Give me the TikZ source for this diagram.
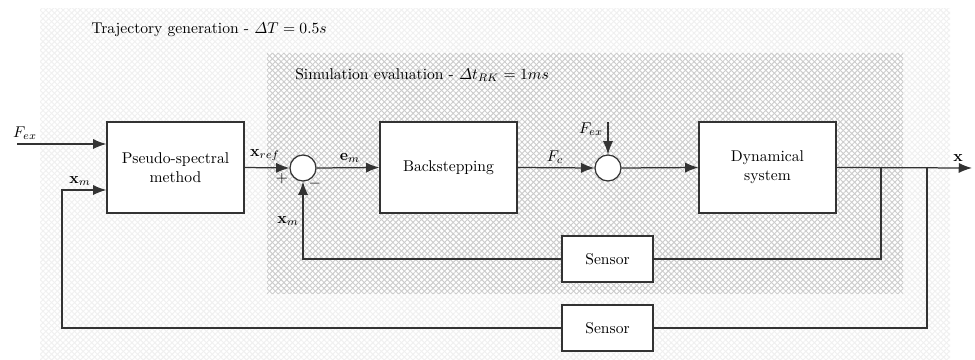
\documentclass[tikz,border=0pt]{standalone}
\usepackage{amsmath}
\usetikzlibrary{arrows.meta,patterns.meta,calc}
\newdimen\pxu \pxu=0.641pt
\definecolor{hatchin}{gray}{0.80}
\definecolor{hatchout}{gray}{0.94}
\definecolor{linec}{gray}{0.2}
\tikzset{
  blockbox/.style={draw=linec,line width=0.8pt,fill=white,minimum width=137\pxu,minimum height=91\pxu,align=center,inner sep=0pt},
  sensorbox/.style={draw=linec,line width=0.8pt,fill=white,minimum width=91\pxu,minimum height=46\pxu,inner sep=0pt},
  sumnode/.style={draw=linec,line width=0.8pt,fill=white,circle,minimum size=26\pxu,inner sep=0pt},
  wire/.style={draw=linec,line width=0.8pt},
  arr/.style={wire,-{Latex[length=8.5pt,width=6.5pt]}},
  lbl/.style={inner sep=0pt},
  hatch/.style={pattern={Lines[angle=#1,distance=2.6pt,line width=0.6pt]}},
}
\begin{document}
\begin{tikzpicture}[x=\pxu,y=-\pxu]
\useasboundingbox (0,0) rectangle (975,360);
% regions
\fill[white] (40,8) rectangle (950,360);
\fill[hatch=45,pattern color=hatchout] (40,8) rectangle (950,360);
\fill[hatch=-45,pattern color=hatchout] (40,8) rectangle (950,360);
\fill[white] (267,53) rectangle (903,293);
\fill[hatch=45,pattern color=hatchin] (267,53) rectangle (903,293);
\fill[hatch=-45,pattern color=hatchin] (267,53) rectangle (903,293);
\node[lbl,anchor=west] (t1) at (91,30) {Trajectory generation - $\varDelta T = 0.5s$};
\node[lbl,anchor=west] (t2) at (295,75) {Simulation evaluation - $\varDelta t_{RK} = 1ms$};
% blocks
\node[blockbox] (ps) at (175.5,167.5) {Pseudo-spectral\\method};
\node[sumnode] (s1) at (303,168) {};
\node[blockbox] (bs) at (448.5,167.5) {Backstepping};
\node[sumnode] (s2) at (608,168) {};
\node[blockbox] (dyn) at (767.5,167.5) {Dynamical\\system};
\node[sensorbox] (se1) at (607.5,259) {Sensor};
\node[sensorbox] (se2) at (607.5,328) {Sensor};
% coordinates
\coordinate (fin) at (17,144);
\coordinate (fex2) at (608,122);
\coordinate (xout) at (972,168);
\coordinate (b1) at (881,168);
\coordinate (b2) at (927,168);
\coordinate (c1) at (62,190);
% connectors
\draw[arr] (fin) -- (fin -| ps.west);
\draw[arr] (ps.east) -- (s1.west);
\draw[arr] (s1.east) -- (bs.west);
\draw[arr] (bs.east) -- (s2.west);
\draw[arr] (fex2) -- (s2.north);
\draw[arr] (s2.east) -- (dyn.west);
\draw[arr] (dyn.east) -- (xout);
\draw[wire] (b1) |- (se1.east);
\draw[arr] (se1.west) -| (s1.south);
\draw[wire] (b2) |- (se2.east);
\draw[arr] (se2.west) -| (c1) -- (c1 -| ps.west);
% labels
\node[lbl] (lfex) at (25,133) {$F_{ex}$};
\node[lbl] (lxm1) at (80,181) {$\mathbf{x}_m$};
\node[lbl] (lxref) at (265,155) {$\mathbf{x}_{ref}$};
\node[lbl] (lplus) at (282,179) {$+$};
\node[lbl] (lminus) at (315,184) {$-$};
\node[lbl] (lxm2) at (288,221) {$\mathbf{x}_m$};
\node[lbl] (lem) at (350,158) {$\mathbf{e}_m$};
\node[lbl] (lfc) at (555,157) {$F_c$};
\node[lbl] (lfex2) at (591,129) {$F_{ex}$};
\node[lbl] (lx) at (958,158) {$\mathbf{x}$};
\end{tikzpicture}
\end{document}
